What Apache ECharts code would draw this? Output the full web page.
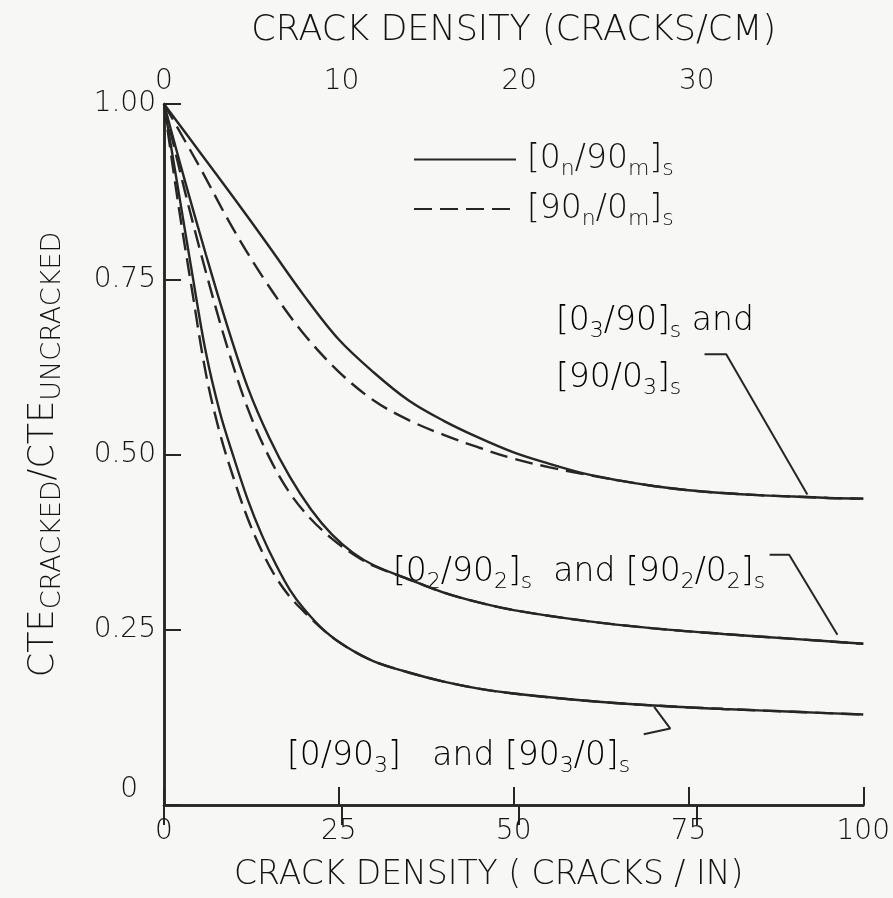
<!DOCTYPE html>
<html>
<head>
<meta charset="utf-8">
<script src="https://cdn.jsdelivr.net/npm/echarts@6/dist/echarts.min.js"></script>
<style>
  html, body { margin: 0; padding: 0; background: #f7f7f5; }
  #chart { width: 893px; height: 898px; }
</style>
</head>
<body>
<div id="chart"></div>
<script>
// crack density, cracks per inch
const xUpper = [0, 5, 10, 15, 20, 25, 30, 35, 40, 45, 50, 55, 60, 65, 70, 75, 80, 85, 90, 95, 100]
const upperSolid = [1.0, 0.933, 0.866, 0.797, 0.727, 0.664, 0.617, 0.577, 0.548, 0.524, 0.503, 0.487, 0.473, 0.463, 0.455, 0.449, 0.445, 0.442, 0.44, 0.438, 0.437]
const upperDashed = [1.0, 0.912, 0.82, 0.74, 0.672, 0.618, 0.577, 0.549, 0.528, 0.51, 0.494, 0.482, 0.472, 0.463, 0.455, 0.449, 0.445, 0.442, 0.44, 0.438, 0.437]

const xMid = [0, 3, 6, 9, 12, 15, 18, 21, 24, 27, 30, 35, 40, 45, 50, 60, 70, 80, 90, 100]
const midSolid = [1.0, 0.89, 0.785, 0.685, 0.595, 0.525, 0.468, 0.422, 0.386, 0.36, 0.342, 0.322, 0.303, 0.289, 0.278, 0.263, 0.252, 0.244, 0.237, 0.23]
const midDashed = [1.0, 0.875, 0.76, 0.655, 0.565, 0.497, 0.445, 0.408, 0.38, 0.358, 0.341, 0.322, 0.303, 0.289, 0.278, 0.263, 0.252, 0.244, 0.237, 0.23]

const xLow = [0, 2, 4, 6, 8, 10, 12, 14, 16, 18, 20, 23, 26, 30, 35, 40, 45, 50, 60, 70, 80, 90, 100]
const lowSolid = [1.0, 0.88, 0.76, 0.645, 0.56, 0.495, 0.435, 0.385, 0.343, 0.307, 0.28, 0.248, 0.226, 0.205, 0.189, 0.176, 0.166, 0.159, 0.149, 0.142, 0.137, 0.133, 0.129]
const lowDashed = [1.0, 0.86, 0.735, 0.615, 0.53, 0.465, 0.408, 0.362, 0.325, 0.297, 0.276, 0.248, 0.226, 0.205, 0.189, 0.176, 0.166, 0.159, 0.149, 0.142, 0.137, 0.133, 0.129]

// leader lines from the labels to the curves
const leaderUpper = [[77.3, 0.643], [80.4, 0.643], [92, 0.443]]
const leaderMid = [[86.6, 0.357], [89.4, 0.357], [96.3, 0.243]]
const leaderLow = [[68.6, 0.101], [72.4, 0.109], [70.1, 0.14]]

const cmPerIn = 2.54

const FONT = 'DejaVu Sans'
const WEIGHT = 300
const INK = '#262626'
const TEXT = '#141414'

const chart = echarts.init(document.getElementById('chart'))

function curve(name, xs, ys, dashed) {
  return {
    name: name,
    type: 'line',
    data: xs.map((x, i) => [x, ys[i]]),
    symbol: 'none',
    showSymbol: false,
    smooth: 0.35,
    lineStyle: { color: INK, width: 2.4, type: dashed ? [18, 8] : 'solid' },
    itemStyle: { color: INK },
    silent: true,
    z: dashed ? 3 : 4
  }
}

function leader(pts) {
  return {
    name: 'leader',
    type: 'line',
    data: pts,
    symbol: 'none',
    lineStyle: { color: INK, width: 2 },
    silent: true
  }
}

const subRich = {
  m: { fontFamily: FONT, fontWeight: WEIGHT, fontSize: 33, color: TEXT },
  s: { fontFamily: FONT, fontWeight: WEIGHT, fontSize: 22, color: TEXT, padding: [20, 0, 0, 0] }
}

function note(x, y, text) {
  return {
    type: 'text',
    left: x,
    top: y,
    style: { text: text, rich: subRich, verticalAlign: 'middle', align: 'left' }
  }
}

const legendText = {
  solid: '{m|[0}{s|n}{m|/90}{s|m}{m|]}{s|s}',
  dashed: '{m|[90}{s|n}{m|/0}{s|m}{m|]}{s|s}'
}

const option = {
  backgroundColor: '#f7f7f5',
  animation: false,
  grid: { left: 164, right: 29, top: 104, bottom: 93, containLabel: false },
  legend: {
    data: ['solid', 'dashed'],
    orient: 'vertical',
    left: 408,
    top: 138,
    itemWidth: 102,
    itemHeight: 14,
    itemGap: 12,
    itemStyle: { opacity: 0 },
    formatter: name => legendText[name],
    textStyle: { rich: subRich, padding: [0, 0, 0, 6] },
    selectedMode: false
  },
  xAxis: [
    {
      type: 'value',
      position: 'bottom',
      min: 0,
      max: 100,
      interval: 25,
      name: 'CRACK DENSITY ( CRACKS / IN)',
      nameLocation: 'middle',
      nameGap: 54,
      nameTextStyle: { fontFamily: FONT, fontWeight: WEIGHT, fontSize: 33, color: TEXT, padding: [0, 50, 0, 0] },
      axisLine: { lineStyle: { color: INK, width: 2.5 } },
      axisTick: { inside: true, length: 18, lineStyle: { color: INK, width: 2 } },
      axisLabel: { margin: 13, fontFamily: FONT, fontWeight: WEIGHT, fontSize: 28, color: TEXT },
      splitLine: { show: false }
    },
    {
      type: 'value',
      position: 'top',
      min: 0,
      max: 100 / cmPerIn,
      interval: 10,
      name: 'CRACK DENSITY (CRACKS/CM)',
      nameLocation: 'middle',
      nameGap: 56,
      nameTextStyle: { fontFamily: FONT, fontWeight: WEIGHT, fontSize: 35, color: TEXT },
      axisLine: { lineStyle: { color: INK, width: 2.5 } },
      axisTick: { inside: true, length: 20, lineStyle: { color: INK, width: 2 } },
      axisLabel: { margin: 8, fontFamily: FONT, fontWeight: WEIGHT, fontSize: 28, color: TEXT, showMaxLabel: false },
      splitLine: { show: false }
    }
  ],
  yAxis: [
    {
      type: 'value',
      position: 'left',
      min: 0,
      max: 1,
      interval: 0.25,
      name: '{b|CTE}{s|CRACKED}{b|/CTE}{s|UNCRACKED}',
      nameLocation: 'middle',
      nameRotate: 90,
      nameGap: 98,
      nameTextStyle: {
        rich: {
          b: { fontFamily: FONT, fontWeight: WEIGHT, fontSize: 35, color: TEXT },
          s: { fontFamily: FONT, fontWeight: WEIGHT, fontSize: 27, color: TEXT, padding: [18, 0, 0, 0] }
        }
      },
      axisLine: { lineStyle: { color: INK, width: 2.5 } },
      axisTick: { inside: true, length: 17, lineStyle: { color: INK, width: 2 } },
      axisLabel: {
        margin: 8,
        fontFamily: FONT,
        fontWeight: WEIGHT,
        fontSize: 28,
        color: TEXT,
        formatter: v => (v === 0 ? '{z|0}' : v.toFixed(2)),
        rich: { z: { fontFamily: FONT, fontWeight: WEIGHT, fontSize: 28, color: TEXT, padding: [0, 18, 30, 0] } }
      },
      splitLine: { show: false }
    },
    {
      type: 'value',
      position: 'right',
      min: 0,
      max: 1,
      axisLine: { show: true, lineStyle: { color: INK, width: 2.5 } },
      axisTick: { show: false },
      axisLabel: { show: false },
      splitLine: { show: false }
    }
  ],
  series: [
    curve('solid', xUpper, upperSolid, false),
    curve('dashed', xUpper, upperDashed, true),
    curve('solid', xMid, midSolid, false),
    curve('dashed', xMid, midDashed, true),
    curve('solid', xLow, lowSolid, false),
    curve('dashed', xLow, lowDashed, true),
    leader(leaderUpper),
    leader(leaderMid),
    leader(leaderLow)
  ],
  graphic: [
    note(556, 305, '{m|[0}{s|3}{m|/90]}{s|s}{m| and}'),
    note(556, 362, '{m|[90/0}{s|3}{m|]}{s|s}'),
    note(393, 556, '{m|[0}{s|2}{m|/90}{s|2}{m|]}{s|s}{m|  and [90}{s|2}{m|/0}{s|2}{m|]}{s|s}'),
    note(287, 740, '{m|[0/90}{s|3}{m|]   and [90}{s|3}{m|/0]}{s|s}')
  ]
}

chart.setOption(option)
</script>
</body>
</html>
